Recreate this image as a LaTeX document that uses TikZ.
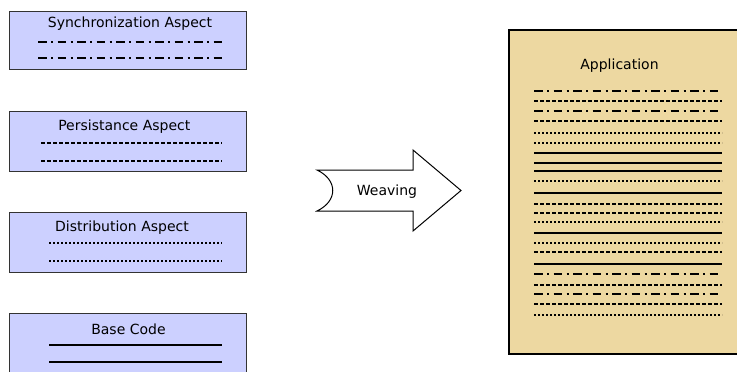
\documentclass[tikz,border=0pt]{standalone}
\usepackage{fontspec}
\setmainfont{DejaVu Sans}
\definecolor{aspectfill}{HTML}{CCD0FF}
\definecolor{appfill}{HTML}{EDD8A1}
\definecolor{edgegray}{HTML}{333333}
\tikzset{
  aspectbox/.style={draw=edgegray, line width=1pt, fill=aspectfill, rectangle, inner sep=0pt},
  appbox/.style={draw=black, line width=1.6pt, fill=appfill, rectangle, inner sep=0pt},
  lbl/.style={anchor=base, inner sep=0pt, font=\fontsize{14}{16}\selectfont},
  codeline/.style={line width=2pt, black},
  dashdotline/.style={codeline, dash pattern=on 8.5pt off 4.5pt on 2pt off 4.5pt},
  dashline/.style={codeline, dash pattern=on 4pt off 2pt},
  dotline/.style={codeline, dash pattern=on 2pt off 2pt},
  arrowshape/.style={draw=black, line width=1pt, fill=white, line join=miter}
}
\begin{document}
\begin{tikzpicture}[x=1pt, y=-1pt]
\clip (0,0) rectangle (737,372);
\fill[white] (0,0) rectangle (737,372);

% left boxes
\node[aspectbox, minimum width=237pt, minimum height=58pt] (sync) at (127.5,40.5) {};
\node[aspectbox, minimum width=237pt, minimum height=60pt] (pers) at (127.5,141.5) {};
\node[aspectbox, minimum width=237pt, minimum height=60pt] (dist) at (127.5,242.5) {};
\node[aspectbox, minimum width=237pt, minimum height=64pt] (base) at (127.5,345.5) {};

\node[lbl] (synct) at (130,27.3) {Synchronization Aspect};
\node[lbl] (perst) at (124.3,130.7) {Persistance Aspect};
\node[lbl] (distt) at (122,231.7) {Distribution Aspect};
\node[lbl] (baset) at (128.5,334) {Base Code};

\coordinate (s1a) at (38,42);  \coordinate (s1b) at (222,42);
\coordinate (s2a) at (38,58);  \coordinate (s2b) at (222,58);
\draw[dashdotline] (s1a) -- (s1b);
\draw[dashdotline] (s2a) -- (s2b);

\coordinate (p1a) at (41,143); \coordinate (p1b) at (222,143);
\coordinate (p2a) at (41,161); \coordinate (p2b) at (222,161);
\draw[dashline] (p1a) -- (p1b);
\draw[dashline] (p2a) -- (p2b);

\coordinate (d1a) at (49,243); \coordinate (d1b) at (222,243);
\coordinate (d2a) at (49,261); \coordinate (d2b) at (222,261);
\draw[dotline] (d1a) -- (d1b);
\draw[dotline] (d2a) -- (d2b);

\coordinate (b1a) at (49,345); \coordinate (b1b) at (222,345);
\coordinate (b2a) at (49,362); \coordinate (b2b) at (222,362);
\draw[codeline] (b1a) -- (b1b);
\draw[codeline] (b2a) -- (b2b);

% weaving arrow
\draw[arrowshape] (317,170) .. controls (338,180) and (338,201) .. (317,211)
  -- (413,211) -- (413,231) -- (461,190.5) -- (413,150) -- (413,170) -- cycle;
\node[lbl] (weave) at (387,195) {Weaving};

% application
\node[appbox, minimum width=240pt, minimum height=324pt] (app) at (629,192) {};
\node[lbl] (appt) at (619.5,69) {Application};

\foreach \yy/\st in {91/dashdotline, 101/dashline, 111/dashdotline, 121/dashline,
  133/dotline, 143/dotline, 153/codeline, 163/codeline, 171/codeline,
  181/dotline, 193/codeline, 204/dashline, 213/dashline, 222/dotline,
  233/codeline, 243/dotline, 252/dashline, 264/codeline, 274/dashdotline,
  285/dashline, 294/dashdotline, 304/dashline, 315/dotline} {
  \coordinate (la) at (534,\yy);
  \coordinate (lb) at (722,\yy);
  \draw[\st] (la) -- (lb);
}
\end{tikzpicture}
\end{document}
